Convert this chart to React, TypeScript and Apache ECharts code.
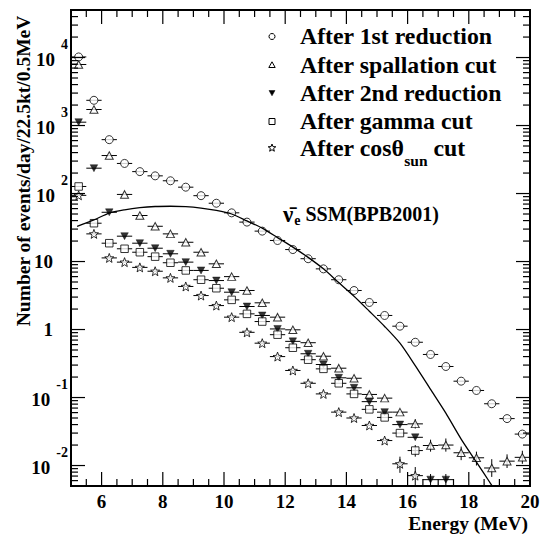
import React, { useEffect, useRef } from "react";
import * as echarts from "echarts";

// ---------------- data ----------------
const energyBins = [5.25, 5.75, 6.25, 6.75, 7.25, 7.75, 8.25, 8.75, 9.25, 9.75, 10.25, 10.75, 11.25, 11.75, 12.25, 12.75, 13.25, 13.75, 14.25, 14.75, 15.25, 15.75, 16.25, 16.75, 17.25, 17.75, 18.25, 18.75, 19.25, 19.75];

const afterFirstReduction = [10200, 2350, 620, 277, 210, 182, 154, 124, 93, 72, 52, 38, 28, 20.4, 15.0, 11.0, 7.8, 5.4, 3.75, 2.5, 1.61, 1.12, 0.65, 0.43, 0.286, 0.174, 0.127, 0.081, 0.049, 0.029];
const afterSpallationCut = [7900, 1720, 362, 97, 47.5, 33, 25.5, 19.2, 13.7, 9.25, 6.0, 3.75, 2.47, 1.52, 0.99, 0.64, 0.405, 0.27, 0.192, 0.111, 0.098, 0.061, 0.041, 0.0197, 0.020, 0.0154, 0.013, 0.0092, 0.0116, 0.0132];
const afterSecondReduction = [1120, 236, 53, 23.6, 18.6, 15.7, 13.0, 9.8, 7.4, 5.25, 3.54, 2.18, 1.61, 1.02, 0.67, 0.44, 0.306, 0.195, 0.139, 0.087, 0.061, 0.040, 0.026, 0.0062, 0.0062, null, null, null, null, null];
const afterGammaCut = [127, 36.6, 18.6, 15.4, 13.7, 11.8, 9.6, 7.4, 5.4, 4.05, 2.73, 1.70, 1.31, 0.84, 0.54, 0.36, 0.264, 0.162, 0.113, 0.067, 0.051, 0.030, 0.0166, null, null, null, null, null, null, null];
const afterCosSunCut = [94, 25.5, 11.3, 9.8, 8.2, 7.2, 5.75, 4.3, 3.16, 2.25, 1.52, 0.91, 0.63, 0.40, 0.25, 0.162, 0.113, 0.061, 0.050, 0.0388, 0.0233, 0.0106, 0.0071, null, null, null, null, null, null, null];

// vertical error bars [energy, low, high] where visible
const spallationVErr = [[16.25, 0.035, 0.048], [16.75, 0.016, 0.024], [17.25, 0.016, 0.025], [17.75, 0.012, 0.019], [18.25, 0.010, 0.016], [18.75, 0.0068, 0.0124], [19.25, 0.0092, 0.0146], [19.75, 0.0106, 0.0165]];
const secondReductionVErr = [[16.75, 0.004, 0.0075], [17.25, 0.004, 0.0075]];
const gammaVErr = [[16.25, 0.0135, 0.020]];
const cosSunVErr = [[15.75, 0.0078, 0.0135], [16.25, 0.0045, 0.0095]];

const ssmEnergy = [5.2, 5.75, 6.25, 6.75, 7.25, 7.75, 8.25, 8.75, 9.25, 9.75, 10.25, 10.75, 11.25, 11.75, 12.25, 12.75, 13.25, 13.75, 14.25, 14.75, 15.25, 15.75, 16.25, 16.75, 17.25, 17.75, 18.25, 18.5, 18.75, 18.9];
const ssmFlux = [33, 41, 51.5, 57.5, 62, 64.5, 65, 64, 61, 56.5, 50, 39.5, 31, 22.5, 16.3, 11.5, 7.8, 4.9, 3.09, 1.86, 1.11, 0.63, 0.295, 0.132, 0.059, 0.0245, 0.0112, 0.0076, 0.0051, 0.004];

const xTickLabels = [6, 8, 10, 12, 14, 16, 18, 20];
const yTickExponents = [-2, -1, 0, 1, 2, 3, 4];

const seriesNames = ["After 1st reduction", "After spallation cut", "After 2nd reduction", "After gamma cut", "After cos\u03b8sun cut"];

// ---------------- helpers ----------------
const FONT = "Liberation Serif";
const X_MIN = 5, X_MAX = 20, Y_MIN = 0.005, Y_MAX = 50000;

function starPath(): string {
  const pts: string[] = [];
  for (let i = 0; i < 10; i++) {
    const r = i % 2 === 0 ? 10 : 4.2;
    const a = -Math.PI / 2 + (i * Math.PI) / 5;
    pts.push(`${(10 + r * Math.cos(a)).toFixed(2)},${(10 + r * Math.sin(a)).toFixed(2)}`);
  }
  return "path://M" + pts.join("L") + "Z";
}
function starPoints(cx: number, cy: number, R: number): number[][] {
  const pts: number[][] = [];
  for (let i = 0; i < 10; i++) {
    const r = i % 2 === 0 ? R : R * 0.42;
    const a = -Math.PI / 2 + (i * Math.PI) / 5;
    pts.push([cx + r * Math.cos(a), cy + r * Math.sin(a)]);
  }
  return pts;
}

const pairs = (vals: (number | null)[]) =>
  energyBins.map((e, i) => [e, vals[i]]).filter((p) => p[1] != null) as number[][];

const STAR = starPath();
const DOWN_TRI = "path://M0,0L10,0L5,9Z";

export default function App() {
  const ref = useRef<HTMLDivElement>(null);
  useEffect(() => {
    if (!ref.current) return;
    const chart = echarts.init(ref.current, null, { renderer: "svg" });

    const allSets = [afterFirstReduction, afterSpallationCut, afterSecondReduction, afterGammaCut, afterCosSunCut];
    const hbarData: number[][] = [];
    allSets.forEach((s) => pairs(s).forEach((p) => hbarData.push(p)));
    const vbarData: number[][] = [...spallationVErr, ...secondReductionVErr, ...gammaVErr, ...cosSunVErr];

    const tickData: number[][] = [];
    for (let x = X_MIN + 0.5; x < X_MAX; x += 0.5) tickData.push([x, 1, 0, x % 2 === 0 ? 1 : 0]);
    for (let n = -3; n <= 4; n++) {
      for (let k = 1; k <= 9; k++) {
        const v = k * Math.pow(10, n);
        if (v > Y_MIN && v < Y_MAX) tickData.push([10, v, 1, k === 1 ? 1 : 0]);
      }
    }

    const markerStyle = { color: "#fff", borderColor: "#000", borderWidth: 1 };

    const legendRows = [36, 64.5, 92.5, 120.5, 147.5];
    const LX = 272;
    const LFS = 23.8;
    const legendText = (i: number, text: string) => ({
      type: "text",
      x: 300,
      y: legendRows[i],
      style: {
        text,
        fontFamily: FONT,
        fontWeight: "bold",
        fontSize: LFS,
        fill: "#000",
        align: "left",
        verticalAlign: "middle",
        rich: {
          a: { fontFamily: FONT, fontWeight: "bold", fontSize: LFS, fill: "#000" },
          sub: { fontFamily: FONT, fontWeight: "bold", fontSize: 15.5, fill: "#000", padding: [26, 0, 0, 0] },
        },
      },
    });

    const option: any = {
      animation: false,
      backgroundColor: "#fff",
      textStyle: { fontFamily: FONT },
      grid: { left: 71, right: 13, top: 10, bottom: 49, show: true, borderColor: "#000", borderWidth: 2, backgroundColor: "transparent" },
      xAxis: {
        type: "value",
        min: X_MIN,
        max: X_MAX,
        interval: 1,
        axisLine: { show: false },
        axisTick: { show: false },
        splitLine: { show: false },
        axisLabel: {
          margin: 6,
          color: "#000",
          fontFamily: FONT,
          fontWeight: "bold",
          fontSize: 19,
          formatter: (v: number) => (xTickLabels.includes(v) ? String(v) : ""),
        },
      },
      yAxis: {
        type: "log",
        logBase: 10,
        min: Y_MIN,
        max: Y_MAX,
        axisLine: { show: false },
        axisTick: { show: false },
        splitLine: { show: false },
        minorTick: { show: false },
        axisLabel: {
          margin: 3,
          color: "#000",
          fontFamily: FONT,
          fontWeight: "bold",
          formatter: (v: number) => {
            const lg = Math.log10(v);
            const n = Math.round(lg);
            if (Math.abs(lg - n) > 1e-6 || !yTickExponents.includes(n)) return "";
            if (n === 0) return "{p|1}";
            if (n === 1) return "{p|10}";
            return `{b|10}{s|${n}}`;
          },
          rich: {
            p: { fontFamily: FONT, fontWeight: "bold", fontSize: 19, color: "#000", padding: [0, 15, 0, 0] },
            b: { fontFamily: FONT, fontWeight: "bold", fontSize: 19, color: "#000", padding: [4, 0, 0, 0] },
            s: { fontFamily: FONT, fontWeight: "bold", fontSize: 14, color: "#000", padding: [0, 0, 26, 6] },
          },
        },
      },
      series: [
        {
          type: "custom",
          name: "hbars",
          silent: true,
          clip: true,
          z: 1,
          encode: { x: 0, y: 1 },
          data: hbarData,
          renderItem: (params: any, api: any) => {
            const e = api.value(0), v = api.value(1);
            const l = api.coord([e - 0.25, v]);
            const r = api.coord([e + 0.25, v]);
            return { type: "line", shape: { x1: l[0], y1: l[1], x2: r[0], y2: r[1] }, style: { stroke: "#000", lineWidth: 1 } };
          },
        },
        {
          type: "custom",
          name: "vbars",
          silent: true,
          clip: true,
          z: 1,
          encode: { x: 0, y: [1, 2] },
          data: vbarData,
          renderItem: (params: any, api: any) => {
            const e = api.value(0);
            const a = api.coord([e, api.value(1)]);
            const b = api.coord([e, api.value(2)]);
            return { type: "line", shape: { x1: a[0], y1: a[1], x2: b[0], y2: b[1] }, style: { stroke: "#000", lineWidth: 1 } };
          },
        },
        {
          type: "scatter",
          name: seriesNames[0],
          symbol: "circle",
          symbolSize: 8,
          z: 3,
          itemStyle: markerStyle,
          data: pairs(afterFirstReduction),
        },
        {
          type: "scatter",
          name: seriesNames[1],
          symbol: "triangle",
          symbolSize: [8, 7.5],
          z: 3,
          itemStyle: markerStyle,
          data: pairs(afterSpallationCut),
        },
        {
          type: "scatter",
          name: seriesNames[2],
          symbol: DOWN_TRI,
          symbolSize: [7.5, 7],
          z: 3,
          itemStyle: { color: "#000", borderColor: "#000", borderWidth: 0.5 },
          data: pairs(afterSecondReduction),
        },
        {
          type: "scatter",
          name: seriesNames[3],
          symbol: "rect",
          symbolSize: 7.5,
          z: 3,
          itemStyle: markerStyle,
          data: pairs(afterGammaCut),
        },
        {
          type: "scatter",
          name: seriesNames[4],
          symbol: STAR,
          symbolSize: 9,
          z: 3,
          itemStyle: markerStyle,
          data: pairs(afterCosSunCut),
        },
        {
          type: "line",
          name: "SSM(BPB2001)",
          smooth: 0.25,
          showSymbol: false,
          symbol: "none",
          z: 4,
          clip: true,
          lineStyle: { color: "#000", width: 1.3 },
          data: ssmEnergy.map((e, i) => [e, ssmFlux[i]]),
        },
        {
          type: "custom",
          name: "ticks",
          silent: true,
          clip: false,
          z: 5,
          encode: { x: 0, y: 1 },
          data: tickData,
          renderItem: (params: any, api: any) => {
            const cs = params.coordSys;
            const kind = api.value(2);
            const major = api.value(3);
            const L = major ? 14 : 7;
            const st = { stroke: "#000", lineWidth: 1.2 };
            if (kind === 0) {
              const px = api.coord([api.value(0), 1])[0];
              const b = cs.y + cs.height;
              return {
                type: "group",
                children: [
                  { type: "line", shape: { x1: px, y1: b, x2: px, y2: b - L }, style: st },
                  { type: "line", shape: { x1: px, y1: cs.y, x2: px, y2: cs.y + L }, style: st },
                ],
              };
            }
            const py = api.coord([10, api.value(1)])[1];
            const r = cs.x + cs.width;
            return {
              type: "group",
              children: [
                { type: "line", shape: { x1: cs.x, y1: py, x2: cs.x + L, y2: py }, style: st },
                { type: "line", shape: { x1: r, y1: py, x2: r - L, y2: py }, style: st },
              ],
            };
          },
        },
      ],
      graphic: [
        // legend markers
        { type: "circle", shape: { cx: LX, cy: 36.5, r: 3 }, style: { fill: "#fff", stroke: "#000", lineWidth: 1 } },
        { type: "polygon", shape: { points: [[LX - 3.2, 67.5], [LX + 3.2, 67.5], [LX, 61.8]] }, style: { fill: "#fff", stroke: "#000", lineWidth: 1 } },
        { type: "polygon", shape: { points: [[LX - 3, 90.5], [LX + 3, 90.5], [LX, 95.8]] }, style: { fill: "#000", stroke: "#000", lineWidth: 0.5 } },
        { type: "rect", shape: { x: LX - 3, y: 118.5, width: 6, height: 6 }, style: { fill: "#fff", stroke: "#000", lineWidth: 1 } },
        { type: "polygon", shape: { points: starPoints(LX, 148, 4) }, style: { fill: "#fff", stroke: "#000", lineWidth: 1 } },
        // legend texts
        legendText(0, seriesNames[0]),
        legendText(1, seriesNames[1]),
        legendText(2, seriesNames[2]),
        legendText(3, seriesNames[3]),
        legendText(4, "{a|After cos\u03b8}{sub|sun}{a| cut}"),
        // SSM label
        {
          type: "text",
          x: 283,
          y: 214,
          style: {
            text: "{nu|\u03bd\u0304}{e|e}{t| SSM(BPB2001)}",
            fontFamily: FONT,
            fontWeight: "bold",
            align: "left",
            verticalAlign: "middle",
            fill: "#000",
            rich: {
              nu: { fontFamily: FONT, fontWeight: "bold", fontSize: 23, fill: "#000" },
              e: { fontFamily: FONT, fontWeight: "bold", fontSize: 14, fill: "#000", padding: [12, 0, 0, 1] },
              t: { fontFamily: FONT, fontWeight: "bold", fontSize: 20, fill: "#000" },
            },
          },
        },
        // axis titles
        {
          type: "text",
          x: 528,
          y: 523,
          style: { text: "Energy (MeV)", fontFamily: FONT, fontWeight: "bold", fontSize: 19.5, fill: "#000", align: "right", verticalAlign: "middle" },
        },
        {
          type: "text",
          x: 23,
          y: 171,
          rotation: Math.PI / 2,
          style: { text: "Number of events/day/22.5kt/0.5MeV", fontFamily: FONT, fontWeight: "bold", fontSize: 19.5, fill: "#000", align: "center", verticalAlign: "middle" },
        },
      ],
    };

    chart.setOption(option);
    return () => chart.dispose();
  }, []);

  return <div ref={ref} style={{ position: "fixed", left: 0, top: 0, width: 543, height: 535, background: "#fff" }} />;
}
